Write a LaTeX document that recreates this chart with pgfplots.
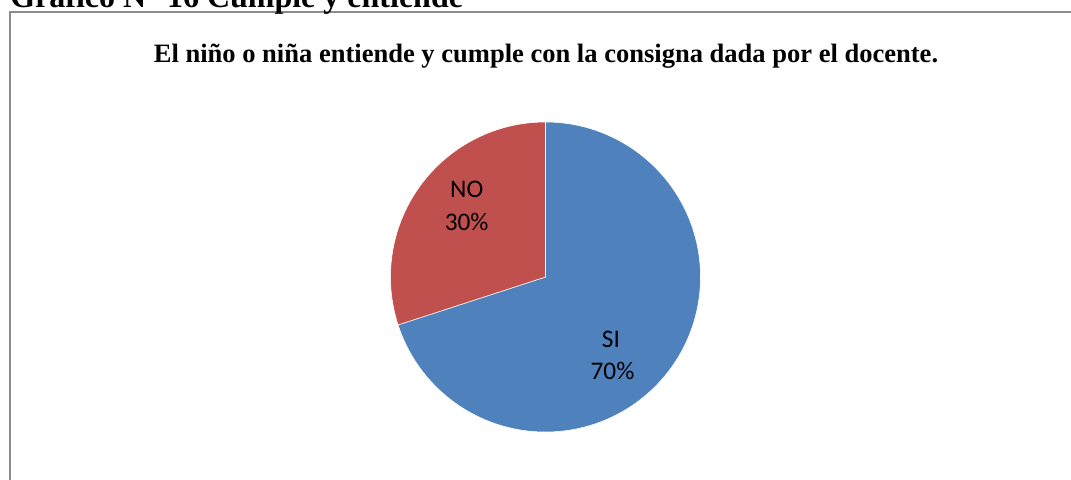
\documentclass[border=0pt]{standalone}
\usepackage{pgfplots}
\pgfplotsset{compat=1.18}
\usepackage{fontspec}
\setmainfont{Liberation Serif}
\newfontfamily\calibri{Carlito}
\definecolor{siblue}{HTML}{4F81BD}
\definecolor{nored}{HTML}{C0504D}
\definecolor{frame}{HTML}{8C8C8C}
% data (percent)
\def\valSI{70}
\def\valNO{30}
\begin{document}
\begin{tikzpicture}
\useasboundingbox (0,0) rectangle (803.25pt,359.25pt);
\clip (0,0) rectangle (803.25pt,359.25pt);
\begin{axis}[
  at={(0,0)}, anchor=south west,
  width=803.25pt, height=359.25pt, scale only axis,
  xmin=0, xmax=1071, ymin=0, ymax=479, y dir=reverse,
  hide axis, clip=false,
]
% frame
\draw[frame, line width=1.1pt] (axis cs:10,600) -- (axis cs:10,12) -- (axis cs:1200,12);
% heading (cut off at top)
\node[anchor=base west, inner sep=0pt, font=\fontsize{24}{28}\selectfont\bfseries] at (axis cs:10,7) {Gráfico N° 16 Cumple y entiende};
% chart title
\node[anchor=base, inner sep=0pt, font=\fontsize{19.9}{24}\selectfont\bfseries] at (axis cs:546,62) {El niño o niña entiende y cumple con la consigna dada por el docente.};
% pie slices
\addplot[fill=siblue, draw=white, line width=0.4pt, domain={90-3.6*\valSI}:90, samples=200, variable=\t]
  ({545.5+155*cos(\t)}, {277-155*sin(\t)}) -- (axis cs:545.5,277) -- cycle;
\addplot[fill=nored, draw=white, line width=0.4pt, domain=90:{90+3.6*\valNO}, samples=100, variable=\t]
  ({545.5+155*cos(\t)}, {277-155*sin(\t)}) -- (axis cs:545.5,277) -- cycle;
% labels
\node[anchor=base, inner sep=0pt, font=\calibri\fontsize{19}{23}\selectfont] at (axis cs:466.7,197) {NO};
\node[anchor=base, inner sep=0pt, font=\calibri\fontsize{19}{23}\selectfont] at (axis cs:466.7,230) {30\%};
\node[anchor=base, inner sep=0pt, font=\calibri\fontsize{19}{23}\selectfont] at (axis cs:611,347) {SI};
\node[anchor=base, inner sep=0pt, font=\calibri\fontsize{19}{23}\selectfont] at (axis cs:612.5,379) {70\%};
\end{axis}
\end{tikzpicture}
\end{document}
